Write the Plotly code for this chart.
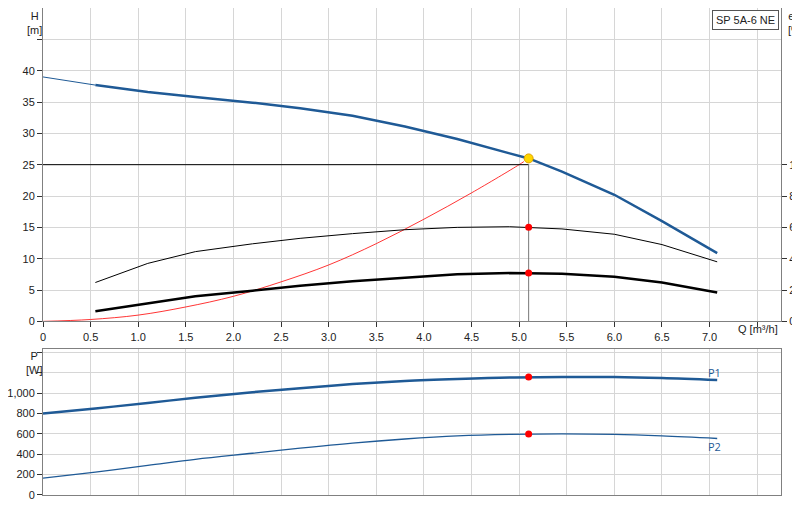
import plotly.graph_objects as go

q = [0.55, 1.1, 1.6, 2.2, 2.7, 3.25, 3.8, 4.35, 4.9, 5.1, 5.45, 6.0, 6.5, 7.08]
head = [37.7, 36.6, 35.8, 34.9, 34.0, 32.8, 31.1, 29.1, 26.8, 26.0, 23.9, 20.2, 16.0, 10.9]
head_ext_q = [0, 0.55]
head_ext = [39.0, 37.7]
eta_pump = [24.8, 37, 44.5, 49.5, 53, 56, 58.5, 60, 60.4, 60, 59, 55.6, 49, 38]
eta_total = [6.4, 11.6, 16, 19.6, 22.8, 25.6, 28, 30, 30.8, 30.8, 30.4, 28.4, 24.8, 18.4]
sys_q = [0, 0.5, 1.0, 1.5, 2.0, 2.5, 3.0, 3.5, 4.0, 4.5, 5.0, 5.05]
sys_h = [0, 0.3, 1.0, 2.3, 4.0, 6.3, 9.0, 12.4, 16.3, 20.5, 25.0, 25.5]
p_q = [0, 0.55, 1.1, 1.6, 2.2, 2.7, 3.25, 3.8, 4.35, 4.9, 5.45, 6.0, 6.5, 7.08]
p1 = [800, 850, 905, 955, 1010, 1050, 1090, 1120, 1140, 1155, 1160, 1160, 1150, 1130]
p2 = [165, 225, 290, 350, 410, 460, 510, 550, 580, 595, 600, 595, 580, 555]
duty_q, duty_h = 5.1, 26.0
duty_eta = [60, 30.8]
duty_p = [1160, 600]

blue = "#1f5a96"
fig = go.Figure()
fig.add_trace(go.Scatter(x=head_ext_q, y=head_ext, mode="lines", line=dict(color=blue, width=1)))
fig.add_trace(go.Scatter(x=q, y=head, mode="lines", line=dict(color=blue, width=2.5)))
fig.add_trace(go.Scatter(x=sys_q, y=sys_h, mode="lines", line=dict(color="red", width=0.8, shape="spline")))
fig.add_trace(go.Scatter(x=[0, duty_q], y=[25, 25], mode="lines", line=dict(color="black", width=1)))
fig.add_trace(go.Scatter(x=[duty_q, duty_q], y=[0, 25], mode="lines", line=dict(color="#777", width=1)))
fig.add_trace(go.Scatter(x=q, y=eta_pump, yaxis="y2", mode="lines", line=dict(color="black", width=1)))
fig.add_trace(go.Scatter(x=q, y=eta_total, yaxis="y2", mode="lines", line=dict(color="black", width=2.5)))
fig.add_trace(go.Scatter(x=[duty_q, duty_q], y=duty_eta, yaxis="y2", mode="markers", marker=dict(color="red", size=7)))
fig.add_trace(go.Scatter(x=[duty_q], y=[duty_h], mode="markers", marker=dict(color="#ffd700", size=9, line=dict(color="#e0a000", width=1))))
fig.add_trace(go.Scatter(x=p_q, y=p1, xaxis="x2", yaxis="y3", mode="lines", line=dict(color=blue, width=2.5, shape="spline")))
fig.add_trace(go.Scatter(x=p_q, y=p2, xaxis="x2", yaxis="y3", mode="lines", line=dict(color=blue, width=1.3, shape="spline")))
fig.add_trace(go.Scatter(x=[duty_q, duty_q], y=duty_p, xaxis="x2", yaxis="y3", mode="markers", marker=dict(color="red", size=7)))

ax = dict(showgrid=True, gridcolor="#d6d6d6", linecolor="#808080", mirror=True, showline=True, automargin=False,
          ticks="outside", ticklen=5, tickcolor="#333", zeroline=False, tickfont=dict(size=11, color="#222", family="Arial"))
rng = [0, 7.75]
xt = [i * 0.5 for i in range(16)]
xl = [f"{v:.1f}" if v else "0" for v in xt]
xl[-1] = ""
fig.update_layout(
    width=800, height=520, autosize=False, showlegend=False, plot_bgcolor="white", paper_bgcolor="white",
    margin=dict(l=35, r=27, t=0, b=17),
    xaxis=dict(ax, range=rng, domain=[0, 1], tickvals=xt, ticktext=xl, anchor="y"),
    yaxis=dict(ax, range=[0, 50], domain=[0.377, 1], tickvals=[0, 5, 10, 15, 20, 25, 30, 35, 40, 45],
               ticktext=["0", "5", "10", "15", "20", "25", "30", "35", "40", ""]),
    yaxis2=dict(ax, range=[0, 200], overlaying="y", side="right", showgrid=False, tickvals=[0, 20, 40, 60, 80, 100], mirror=False),
    xaxis2=dict(ax, range=rng, domain=[0, 1], tickvals=xt, showticklabels=False, ticks="", anchor="y3"),
    yaxis3=dict(ax, range=[0, 1440], domain=[0.032, 0.323], tickvals=[0, 200, 400, 600, 800, 1000, 1200, 1400],
                ticktext=["0", "200", "400", "600", "800", "1,000", "", ""]),
)
fnt = dict(size=11, color="#222", family="Arial")
anns = [
    dict(x=-0.012, y=1.0, text="H<br>[m]", xanchor="center", yanchor="top"),
    dict(x=-0.012, y=0.325, text="P<br>[W]", xanchor="center", yanchor="top"),
    dict(x=1.02, y=1.0, text="eta<br>[%]", xanchor="center", yanchor="top"),
    dict(x=0.999, y=0.361, text="Q [m³/h]", xanchor="right", yanchor="middle"),
]
for a in anns:
    fig.add_annotation(xref="paper", yref="paper", showarrow=False, font=fnt, align="center", **a)
fig.add_annotation(xref="paper", yref="paper", x=0.997, y=0.997, text="SP 5A-6 NE", showarrow=False,
                   xanchor="right", yanchor="top", font=fnt, bordercolor="#555", borderwidth=1, bgcolor="white", borderpad=3)
fig.add_annotation(x=7.05, y=1200, xref="x2", yref="y3", text="P1", showarrow=False, font=dict(size=11, color=blue))
fig.add_annotation(x=7.05, y=480, xref="x2", yref="y3", text="P2", showarrow=False, font=dict(size=11, color=blue))
fig.write_html("out.html")
